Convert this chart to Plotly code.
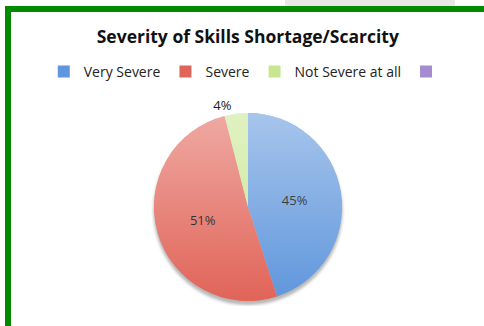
import base64
import plotly.graph_objects as go

# Survey result: how severe the skills shortage is perceived to be
categories = ["Very Severe", "Severe", "Not Severe at all", " "]
shares = [45, 51, 4, 0]
slice_colors = ["#5F96DC", "#E16458", "#C8E690", "#A58BD0"]
label_positions = ["inside", "inside", "outside", "none"]

W, H = 484, 326
FONT = "Open Sans"

# pie placement in pixels (left, right, top, bottom)
px_l, px_r, px_t, px_b = 154, 342, 113, 301
dom_x = [px_l / W, px_r / W]
dom_y = [1 - px_b / H, 1 - px_t / H]

fig = go.Figure()
fig.add_trace(go.Pie(
    labels=categories,
    values=shares,
    sort=False,
    direction="clockwise",
    rotation=0,
    marker=dict(colors=slice_colors, line=dict(width=0)),
    texttemplate="%{value}%",
    textposition=label_positions,
    insidetextorientation="horizontal",
    textfont=dict(family=FONT, size=13, color="#000000"),
    outsidetextfont=dict(family=FONT, size=13, color="#222222"),
    hoverinfo="label+percent",
    domain=dict(x=dom_x, y=dom_y),
    showlegend=True,
))

# light top-to-bottom sheen laid over the pie disc, plus a faint drop shadow
shade_svg = (
    '<svg xmlns="http://www.w3.org/2000/svg" width="200" height="200" viewBox="0 0 200 200">'
    '<defs><linearGradient id="g" x1="0" y1="0" x2="0" y2="1">'
    '<stop offset="0" stop-color="#ffffff" stop-opacity="0.45"/>'
    '<stop offset="1" stop-color="#ffffff" stop-opacity="0.0"/>'
    '</linearGradient></defs>'
    '<circle cx="100" cy="100" r="100" fill="url(#g)"/></svg>'
)
shadow_svg = (
    '<svg xmlns="http://www.w3.org/2000/svg" width="200" height="200" viewBox="0 0 200 200">'
    '<defs><filter id="b"><feGaussianBlur stdDeviation="1.5"/></filter></defs>'
    '<circle cx="100" cy="101.5" r="97.5" fill="#000000" fill-opacity="0.28" filter="url(#b)"/></svg>'
)


def svg_uri(svg):
    return "data:image/svg+xml;base64," + base64.b64encode(svg.encode()).decode()


fig.update_layout(
    width=W, height=H,
    margin=dict(l=0, r=0, t=0, b=0),
    paper_bgcolor="white",
    plot_bgcolor="white",
    title=dict(
        text="<b>Severity of Skills Shortage/Scarcity</b>",
        x=0.512, xanchor="center", y=1 - 37 / H, yanchor="middle",
        font=dict(family=FONT, size=17.5, color="#111111"),
    ),
    legend=dict(
        orientation="h",
        x=0.515, xanchor="center", y=1 - 72 / H, yanchor="middle",
        font=dict(family=FONT, size=14, color="#222222"),
        itemwidth=30,
        traceorder="normal",
    ),
    images=[
        dict(source=svg_uri(shadow_svg), xref="paper", yref="paper",
             x=dom_x[0] - 3 / W, y=dom_y[1] + 1 / H,
             sizex=(px_r - px_l + 6) / W, sizey=(px_b - px_t + 6) / H,
             xanchor="left", yanchor="top", sizing="stretch", layer="below"),
        dict(source=svg_uri(shade_svg), xref="paper", yref="paper",
             x=dom_x[0], y=dom_y[1], sizex=(px_r - px_l) / W, sizey=(px_b - px_t) / H,
             xanchor="left", yanchor="top", sizing="stretch", layer="above"),
    ],
    shapes=[
        # green frame around the chart
        dict(type="rect", xref="paper", yref="paper",
             x0=8 / W, x1=1.05, y0=-0.05, y1=1 - 9 / H,
             line=dict(color="#008A00", width=6), layer="above"),
        # faint band of the page above the frame
        dict(type="rect", xref="paper", yref="paper",
             x0=285 / W, x1=455 / W, y0=1 - 6 / H, y1=1.0,
             fillcolor="#E8E8E8", line=dict(width=0), layer="below"),
    ],
)

fig.write_html("out.html")
